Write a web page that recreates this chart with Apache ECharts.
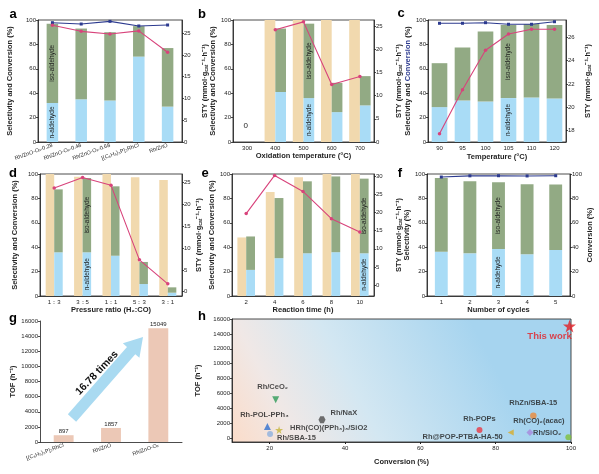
<!DOCTYPE html>
<html>
<head>
<meta charset="utf-8">
<script src="https://cdn.jsdelivr.net/npm/echarts@6/dist/echarts.min.js"></script>
<style>
html, body { margin: 0; padding: 0; background: #fff; }
#chart { width: 599px; height: 474px; }
</style>
</head>
<body>
<div id="chart"></div>
<script>
// a - catalysts
var aCats = ['Rh/ZnO-Oₓ-0.28', 'Rh/ZnO-Oₓ-0.48', 'Rh/ZnO-Oₓ-0.68', '[(C₆H₅)₃P]₃RhCl', 'Rh/ZnO'];
var aN = [32, 35, 34, 70, 29];
var aIso = [65, 58, 56, 25, 48];
var aConv = [97.8, 96.7, 98.9, 95.1, 95.9];
var aSty = [26.8, 25.4, 24.8, 25.5, 20.6];

// b - oxidation temperature
var bCats = ['300', '400', '500', '600', '700'];
var bConv = [0, 100, 100, 100, 100];
var bN = [0, 41, 36, 24.5, 30];
var bIso = [0, 52, 61, 24, 24];
var bSty = [null, 24.2, 25.9, 12.4, 14.1];

// c - reaction temperature
var cCats = ['90', '95', '100', '105', '110', '120'];
var cN = [28.6, 34, 33.2, 36, 36.5, 35.7];
var cIso = [36, 43.4, 57.3, 60, 60.2, 60.3];
var cConv = [97.3, 97.3, 97.8, 96.5, 96.5, 98.6];
var cSty = [17.7, 21.5, 24.9, 26.3, 26.7, 26.7];

// d - pressure ratio
var dCats = ['1：3', '3：5', '1：1', '5：3', '3：1'];
var dConv = [100, 97.8, 100, 97.3, 95];
var dN = [35.8, 35.8, 33, 9.8, 2.7];
var dIso = [51.6, 60.9, 56.9, 18.1, 4.4];
var dSty = [23.8, 26.2, 24.4, 7.3, 1.8];

// e - reaction time
var eCats = ['2', '4', '6', '8', '10'];
var eConv = [48, 85.2, 97.3, 100, 100];
var eN = [21.4, 31, 35, 35.9, 35];
var eIso = [27.4, 49.3, 59, 62.1, 61.2];
var eSty = [19.7, 30.2, 25.8, 18.3, 14.6];

// f - recycling
var fCats = ['1', '2', '3', '4', '5'];
var fN = [36.3, 35, 38.5, 34.2, 37.7];
var fIso = [60.4, 59, 54.7, 57.3, 53.6];
var fConv = [97.5, 98.5, 98.6, 98.4, 98.6];

// g - TOF
var gCats = ['[(C₆H₅)₃P]₃RhCl', 'Rh/ZnO', 'Rh/ZnO-Oₓ'];
var gTof = [897, 1857, 15049];

// h - literature comparison
var hNames = ['This work', 'Rh/CeO₂', 'Rh-POL-PPh₃', 'Rh/SBA-15', 'HRh(CO)(PPh₃)₃/SiO2', 'Rh/NaX',
              'Rh-POPs', 'Rh@POP-PTBA-HA-50', 'RhZn/SBA-15', 'Rh(CO)₂(acac)', 'Rh/SiO₂'];
var hConv = [99.6, 21.6, 19.4, 20.1, 22.5, 33.9, 75.7, 84, 90, 89.1, 99.3];
var hTof = [15049, 5180, 1580, 585, 1126, 2480, 1126, 766, 3018, 766, 135];

var STAR = 'path://M50,0 L61,35 L98,35 L68,57 L79,91 L50,70 L21,91 L32,57 L2,35 L39,35 Z';
var HEX = 'path://M25,0 L75,0 L100,43 L75,87 L25,87 L0,43 Z';
var hMarks = [
    { symbol: STAR, size: 13, color: '#e31e24', pos: 'bottom', off: [-20, -4], lc: '#e31e24', fs: 9.5 },
    { symbol: 'triangle', rot: 180, size: 7, color: '#2e9a57', pos: 'top', off: [-3, -2] },
    { symbol: 'triangle', size: 7, color: '#2f6fd0', pos: 'top', off: [-3, -1] },
    { symbol: 'circle', size: 6, color: '#8db0de', pos: 'right', off: [1, 4] },
    { symbol: STAR, size: 8, color: '#c5b53a', pos: 'right', off: [4, -2] },
    { symbol: HEX, size: 7, color: '#4d4d4d', pos: 'right', off: [2, -7] },
    { symbol: 'circle', size: 6, color: '#e83845', pos: 'top', off: [0, -1] },
    { symbol: 'triangle', rot: 90, size: 6, color: '#d8ad2a', pos: 'left', off: [-2, 4] },
    { symbol: 'circle', size: 6.5, color: '#ec8a3a', pos: 'top', off: [0, -3] },
    { symbol: 'diamond', size: 7, color: '#a887dc', pos: 'top', off: [9, -1] },
    { symbol: 'circle', size: 6, color: '#7fbf3b', pos: 'left', off: [-1, -4] }
];

var FONT = '"Liberation Sans", Arial, sans-serif';
var INK = '#1e1e1e';
var COL = { tan: '#f1d9ae', n: '#a9dcf6', iso: '#92aa84', sty: '#d8437b', conv: '#2c3a8f', tof: '#ecc8b6' };

var nameStyle = { fontFamily: FONT, fontSize: 7.5, fontWeight: 'bold', color: INK };
var styRich = {
    t: { fontFamily: FONT, fontSize: 7.5, fontWeight: 'bold', color: INK },
    s: { fontFamily: FONT, fontSize: 5, fontWeight: 'bold', color: INK, verticalAlign: 'bottom' },
    b: { fontFamily: FONT, fontSize: 7.5, fontWeight: 'bold', color: COL.conv }
};
var STY_NAME = '{t|STY (mmol·g}{s|cat}{t|⁻¹·h⁻¹)}';

function plain(v) { return String(v); }

var grids = [], xAxes = [], yAxes = [], series = [];

function grid(box, extra) {
    grids.push(Object.assign({
        left: box[0], top: box[1], width: box[2], height: box[3],
        show: true, borderColor: INK, borderWidth: 0.8, backgroundColor: 'transparent'
    }, extra || {}));
    return grids.length - 1;
}

function xCat(gi, cats, name, gap, lab) {
    xAxes.push({
        type: 'category', gridIndex: gi, data: cats,
        name: name, nameLocation: 'middle', nameGap: gap, nameTextStyle: nameStyle,
        axisLine: { lineStyle: { color: INK, width: 0.8 } },
        axisTick: { alignWithLabel: true, length: 2, lineStyle: { color: INK, width: 0.8 } },
        axisLabel: Object.assign({ fontFamily: FONT, fontSize: 6, color: INK, margin: 3, interval: 0 }, lab || {})
    });
    return xAxes.length - 1;
}

function yAx(gi, o) {
    var lab = { fontFamily: FONT, fontSize: 6, color: INK, margin: 2, formatter: plain };
    var tk = { show: true, length: 2, lineStyle: { color: INK, width: 0.8 } };
    if (o.ticks) {
        lab.customValues = o.ticks;
        tk.customValues = o.ticks;
    }
    yAxes.push({
        type: 'value', gridIndex: gi, position: o.pos || 'left',
        min: o.min, max: o.max, interval: o.interval,
        name: o.name, nameLocation: 'middle', nameGap: o.gap, nameRotate: 90,
        nameTextStyle: Object.assign({}, nameStyle, { rich: styRich }),
        axisLine: { show: true, onZero: false, lineStyle: { color: INK, width: 0.8 } },
        axisTick: tk, axisLabel: lab, splitLine: { show: false }
    });
    return yAxes.length - 1;
}

function vlabel(text, k) {
    return {
        show: true, position: 'inside', rotate: 90, fontFamily: FONT, fontSize: 6.5, color: INK,
        formatter: function (p) { return p.dataIndex === k ? text : ''; }
    };
}

function tanBar(xi, yi, data, width) {
    var s = { type: 'bar', xAxisIndex: xi, yAxisIndex: yi, data: data, barWidth: width, barGap: '0%',
              itemStyle: { color: COL.tan } };
    series.push(s);
    return s;
}

function stack(xi, yi, nData, isoData, width, k) {
    series.push({ type: 'bar', xAxisIndex: xi, yAxisIndex: yi, stack: 'sel' + xi, data: nData,
                  barWidth: width, barGap: '0%', itemStyle: { color: COL.n }, label: vlabel('n-aldehyde', k) });
    series.push({ type: 'bar', xAxisIndex: xi, yAxisIndex: yi, stack: 'sel' + xi, data: isoData,
                  barWidth: width, barGap: '0%', itemStyle: { color: COL.iso }, label: vlabel('iso-aldehyde', k) });
}

function line(xi, yi, data, color, sym) {
    series.push({ type: 'line', xAxisIndex: xi, yAxisIndex: yi, data: data, symbol: sym,
                  symbolSize: sym === 'rect' ? 3 : 3.5, itemStyle: { color: color },
                  lineStyle: { color: color, width: 1.1 }, z: 5 });
}

var sty5 = [0, 5, 10, 15, 20, 25];

// a
var ga = grid([38, 20, 144, 122]);
var xa = xCat(ga, aCats, '', 0, { rotate: 20, fontSize: 5.5 });
var ya = yAx(ga, { min: 0, max: 100, interval: 20, name: 'Selectivity and Conversion (%)', gap: 24 });
var ya2 = yAx(ga, { pos: 'right', min: 0, max: 28, ticks: sty5, name: STY_NAME, gap: 19 });
stack(xa, ya, aN, aIso, '40%', 0);
line(xa, ya, aConv, COL.conv, 'rect');
line(xa, ya2, aSty, COL.sty, 'circle');

// b
var gb = grid([233, 20, 141, 122]);
var xb = xCat(gb, bCats, 'Oxidation temperature (°C)', 9);
var yb = yAx(gb, { min: 0, max: 100, interval: 20, name: 'Selectivity and Conversion (%)', gap: 14 });
var yb2 = yAx(gb, { pos: 'right', min: 0, max: 26.3, ticks: sty5, name: STY_NAME, gap: 21 });
var bTan = tanBar(xb, yb, bConv, '38%');
bTan.markPoint = {
    symbol: 'rect', symbolSize: 1, itemStyle: { color: 'rgba(0,0,0,0)' },
    data: [{ coord: ['300', 13] }],
    label: { show: true, formatter: '0', position: 'inside', offset: [4, 0], fontFamily: FONT, fontSize: 8, color: INK }
};
stack(xb, yb, bN, bIso, '38%', 2);
line(xb, yb2, bSty, COL.sty, 'circle');

// c
var gc = grid([428, 20, 138, 122]);
var xc = xCat(gc, cCats, 'Temperature (°C)', 11);
var yc = yAx(gc, { min: 0, max: 100, interval: 20, name: 'Selectivity and {b|Conversion} (%)', gap: 16 });
var yc2 = yAx(gc, { pos: 'right', min: 17, max: 27.5, ticks: [18, 20, 22, 24, 26], name: STY_NAME, gap: 18 });
stack(xc, yc, cN, cIso, '68%', 3);
line(xc, yc, cConv, COL.conv, 'rect');
line(xc, yc2, cSty, COL.sty, 'circle');

// d
var gd = grid([40, 174, 142, 122]);
var xd = xCat(gd, dCats, 'Pressure ratio (H₂:CO)', 10);
var yd = yAx(gd, { min: 0, max: 100, interval: 20, name: 'Selectivity and Conversion (%)', gap: 21 });
var yd2 = yAx(gd, { pos: 'right', min: -1, max: 27, ticks: sty5, name: STY_NAME, gap: 13 });
tanBar(xd, yd, dConv, '30%');
stack(xd, yd, dN, dIso, '30%', 1);
line(xd, yd2, dSty, COL.sty, 'circle');

// e
var ge = grid([232, 174, 142, 122]);
var xe = xCat(ge, eCats, 'Reaction time (h)', 9);
var ye = yAx(ge, { min: 0, max: 100, interval: 20, name: 'Selectivity and Conversion (%)', gap: 15 });
var ye2 = yAx(ge, { pos: 'right', min: -3, max: 30.6, ticks: [0, 5, 10, 15, 20, 25, 30], name: STY_NAME, gap: 21 });
tanBar(xe, ye, eConv, '31%');
stack(xe, ye, eN, eIso, '31%', 4);
line(xe, ye2, eSty, COL.sty, 'circle');

// f
var gf = grid([427, 174, 143, 122]);
var xf = xCat(gf, fCats, 'Number of cycles', 9);
var yf = yAx(gf, { min: 0, max: 100, interval: 20, name: 'Selectivity (%)', gap: 9 });
var yf2 = yAx(gf, { pos: 'right', min: 0, max: 100, interval: 20, name: 'Conversion (%)', gap: 14 });
stack(xf, yf, fN, fIso, '45%', 2);
line(xf, yf2, fConv, COL.conv, 'rect');

// g
var gg = grid([40, 321, 142, 121], { show: false });
var xg = xCat(gg, gCats, '', 0, { rotate: 20, fontSize: 5.5 });
var yg = yAx(gg, { min: 0, max: 16000, interval: 2000, name: 'TOF (h⁻¹)', gap: 21 });
series.push({
    type: 'bar', xAxisIndex: xg, yAxisIndex: yg, data: gTof, barWidth: '42%',
    itemStyle: { color: COL.tof },
    label: { show: true, position: 'top', distance: 1, fontFamily: FONT, fontSize: 6, color: INK }
});

// h
var gh = grid([232, 319, 339, 123], {
    backgroundColor: {
        type: 'linear', x: 0, y: 1, x2: 0.7, y2: 0,
        colorStops: [
            { offset: 0, color: '#fbdcc9' },
            { offset: 0.22, color: '#f0e8e6' },
            { offset: 0.5, color: '#d3e7f2' },
            { offset: 1, color: '#a6d4ef' }
        ]
    }
});
xAxes.push({
    type: 'value', gridIndex: gh, min: 10, max: 100,
    name: 'Conversion (%)', nameLocation: 'middle', nameGap: 16, nameTextStyle: nameStyle,
    axisLine: { onZero: false, lineStyle: { color: INK, width: 0.8 } },
    axisTick: { length: 2, customValues: [20, 40, 60, 80, 100], lineStyle: { color: INK } },
    axisLabel: { customValues: [20, 40, 60, 80, 100], fontFamily: FONT, fontSize: 6, color: INK, margin: 3, formatter: plain },
    splitLine: { show: false }
});
var xh = xAxes.length - 1;
var yh = yAx(gh, { min: -500, max: 16000, ticks: [0, 2000, 4000, 6000, 8000, 10000, 12000, 14000, 16000],
                   name: 'TOF (h⁻¹)', gap: 20 });
series.push({
    type: 'scatter', xAxisIndex: xh, yAxisIndex: yh, z: 6,
    data: hNames.map(function (nm, i) {
        var m = hMarks[i];
        return {
            name: nm, value: [hConv[i], hTof[i]],
            symbol: m.symbol, symbolSize: m.size, symbolRotate: m.rot || 0,
            itemStyle: { color: m.color },
            label: {
                show: true, position: m.pos, offset: m.off, distance: 3, formatter: nm,
                fontFamily: FONT, fontWeight: 'bold', fontSize: m.fs || 7.5, color: m.lc || INK
            }
        };
    })
});

// arrow annotation in g
function arrowPoints(x1, y1, x2, y2, hw, hh, hl) {
    var dx = x2 - x1, dy = y2 - y1, L = Math.sqrt(dx * dx + dy * dy);
    var ux = dx / L, uy = dy / L, nx = -uy, ny = ux;
    var bx = x2 - ux * hl, by = y2 - uy * hl;
    return [
        [x1 + nx * hw, y1 + ny * hw], [bx + nx * hw, by + ny * hw], [bx + nx * hh, by + ny * hh],
        [x2, y2],
        [bx - nx * hh, by - ny * hh], [bx - nx * hw, by - ny * hw], [x1 - nx * hw, y1 - ny * hw]
    ];
}

var letters = [['a', 13, 14], ['b', 202, 14], ['c', 401, 13], ['d', 13, 173],
               ['e', 205, 173], ['f', 400, 173], ['g', 13, 318], ['h', 202, 316]];
var graphics = letters.map(function (l) {
    return { type: 'text', x: l[1], y: l[2],
             style: { text: l[0], fontFamily: FONT, fontSize: 13, fontWeight: 'bold', fill: '#000',
                      textAlign: 'center', textVerticalAlign: 'middle' } };
});
graphics.push({ type: 'polygon', shape: { points: arrowPoints(72, 418, 143, 337, 5.5, 11, 18) },
                style: { fill: '#a9daf1' }, z: 10 });
graphics.push({ type: 'text', x: 97, y: 373, rotation: Math.PI / 4 * 1.03,
                style: { text: '16.78 times', fontFamily: FONT, fontSize: 10.5, fontWeight: 'bold', fill: '#111',
                         textAlign: 'center', textVerticalAlign: 'middle' }, z: 11 });

var chart = echarts.init(document.getElementById('chart'));
chart.setOption({
    backgroundColor: '#fff',
    animation: false,
    textStyle: { fontFamily: FONT },
    grid: grids,
    xAxis: xAxes,
    yAxis: yAxes,
    series: series,
    graphic: graphics
});
</script>
</body>
</html>
